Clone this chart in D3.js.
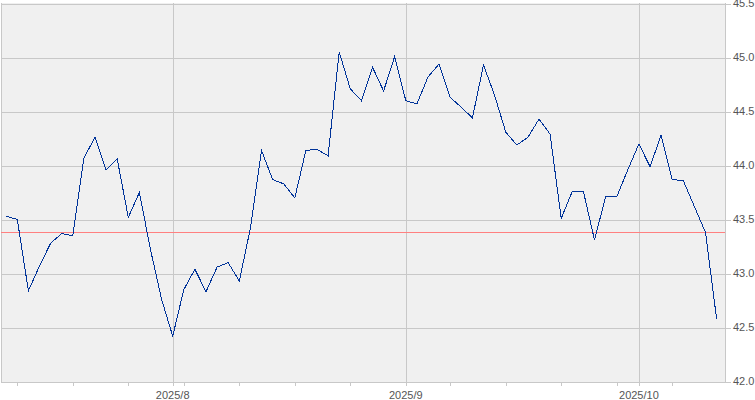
<!DOCTYPE html>
<html>
<head>
<meta charset="utf-8">
<script src="https://cdn.jsdelivr.net/npm/d3@7"></script>
<style>
  body { margin: 0; background: #fff; }
  svg { display: block; }
</style>
</head>
<body>
<svg id="svg" width="755" height="400"></svg>
<script>
// trading days, jul 11 -> oct 10 2025
const dates = [
  "2025-07-11",
  "2025-07-14", "2025-07-15", "2025-07-16", "2025-07-17", "2025-07-18",
  "2025-07-21", "2025-07-22", "2025-07-23", "2025-07-24", "2025-07-25",
  "2025-07-28", "2025-07-29", "2025-07-30", "2025-07-31", "2025-08-01",
  "2025-08-04", "2025-08-05", "2025-08-06", "2025-08-07", "2025-08-08",
  "2025-08-11", "2025-08-12", "2025-08-13", "2025-08-14", "2025-08-15",
  "2025-08-18", "2025-08-19", "2025-08-20", "2025-08-21", "2025-08-22",
  "2025-08-25", "2025-08-26", "2025-08-27", "2025-08-28", "2025-08-29",
  "2025-09-02", "2025-09-03", "2025-09-04", "2025-09-05",
  "2025-09-08", "2025-09-09", "2025-09-10", "2025-09-11", "2025-09-12",
  "2025-09-15", "2025-09-16", "2025-09-17", "2025-09-18", "2025-09-19",
  "2025-09-22", "2025-09-23", "2025-09-24", "2025-09-25", "2025-09-26",
  "2025-09-29", "2025-09-30", "2025-10-01", "2025-10-02", "2025-10-03",
  "2025-10-06", "2025-10-07", "2025-10-08", "2025-10-09", "2025-10-10"
];
const values = [
  43.53,
  43.50, 42.84, 43.07, 43.28, 43.37,
  43.35, 44.07, 44.26, 43.96, 44.06,
  43.52, 43.75, 43.22, 42.76, 42.42,
  42.85, 43.04, 42.83, 43.06, 43.10,
  42.93, 43.42, 44.14, 43.87, 43.83,
  43.70, 44.14, 44.15, 44.09, 45.05,
  44.71, 44.60, 44.91, 44.69, 45.01,
  44.60, 44.57, 44.82, 44.94,
  44.63, 44.54, 44.44, 44.93, 44.65,
  44.31, 44.19, 44.26, 44.43, 44.29,
  43.51, 43.76, 43.76, 43.31, 43.71,
  43.71, 43.96, 44.20, 43.99, 44.28,
  43.87, 43.86, 43.62, 43.38, 42.58
];
const refLine = 43.38;
const yTicks = [42.0, 42.5, 43.0, 43.5, 44.0, 44.5, 45.0, 45.5];

var width = 755;
var height = 400;
var plot = {left: 1, right: 725, top: 3, bottom: 382};

var parse = d3.timeParse("%Y-%m-%d");
var days = dates.map(parse);

var x = d3.scaleLinear()
  .domain([0, dates.length - 1])
  .range([6.2, 716.6]);

var y = d3.scaleLinear()
  .domain([42, 45.5])
  .range([381.5, 3.5]);

// first trading day of each month / each week
var monthIdx = [];
var weekIdx = [];
days.forEach(function(d, i) {
  if (i === 0) return;
  var p = days[i - 1];
  if (d.getMonth() !== p.getMonth()) monthIdx.push(i);
  else if (d3.timeMonday.floor(d).getTime() !== d3.timeMonday.floor(p).getTime()) weekIdx.push(i);
});

var svg = d3.select("#svg");
var crisp = v => Math.round(v) + 0.5;

svg.append("rect")
  .attr("x", plot.left)
  .attr("y", plot.top)
  .attr("width", plot.right - plot.left)
  .attr("height", plot.bottom - plot.top)
  .attr("fill", "#f0f0f0");

// horizontal grid + right axis labels
var gy = svg.append("g").attr("shape-rendering", "crispEdges");
gy.selectAll("line")
  .data(yTicks)
  .join("line")
    .attr("x1", plot.left)
    .attr("x2", plot.right + 6)
    .attr("y1", d => crisp(y(d)))
    .attr("y2", d => crisp(y(d)))
    .attr("stroke", "#c8c8c8");
svg.append("g")
  .selectAll("text")
  .data(yTicks)
  .join("text")
    .attr("x", plot.right + 8)
    .attr("y", d => y(d))
    .attr("dy", "0.36em")
    .attr("font-family", "Liberation Sans, Arial, sans-serif")
    .attr("font-size", 11)
    .attr("fill", "#555")
    .text(d => d.toFixed(1));

// vertical grid at month starts, small ticks at week starts
var gx = svg.append("g").attr("shape-rendering", "crispEdges").attr("stroke", "#c8c8c8");
gx.selectAll(".month")
  .data(monthIdx)
  .join("line")
    .attr("class", "month")
    .attr("x1", d => crisp(x(d)))
    .attr("x2", d => crisp(x(d)))
    .attr("y1", plot.top)
    .attr("y2", plot.bottom + 4);
gx.selectAll(".week")
  .data(weekIdx)
  .join("line")
    .attr("class", "week")
    .attr("x1", d => crisp(x(d)))
    .attr("x2", d => crisp(x(d)))
    .attr("y1", plot.bottom)
    .attr("y2", plot.bottom + 4);
// frame: left, right, bottom
gx.append("line").attr("x1", plot.left + 0.5).attr("x2", plot.left + 0.5).attr("y1", plot.top).attr("y2", plot.bottom);
gx.append("line").attr("x1", plot.right + 0.5).attr("x2", plot.right + 0.5).attr("y1", plot.top).attr("y2", plot.bottom + 1);
gx.append("line").attr("x1", plot.left).attr("x2", plot.right + 1).attr("y1", plot.bottom + 0.5).attr("y2", plot.bottom + 0.5);

svg.append("g")
  .selectAll("text")
  .data(monthIdx)
  .join("text")
    .attr("x", d => x(d))
    .attr("y", 399)
    .attr("text-anchor", "middle")
    .attr("font-family", "Liberation Sans, Arial, sans-serif")
    .attr("font-size", 11)
    .attr("fill", "#555")
    .text(d => d3.timeFormat("%Y/")(days[d]) + (days[d].getMonth() + 1));

// reference line
svg.append("line")
  .attr("x1", plot.left)
  .attr("x2", plot.right)
  .attr("y1", crisp(y(refLine)))
  .attr("y2", crisp(y(refLine)))
  .attr("stroke", "#ff8080")
  .attr("shape-rendering", "crispEdges");

// price line
svg.append("path")
  .datum(values)
  .attr("fill", "none")
  .attr("stroke", "#003399")
  .attr("stroke-width", 1)
  .attr("shape-rendering", "crispEdges")
  .attr("d", d3.line().x((d, i) => x(i)).y(d => y(d)));
</script>
</body>
</html>
